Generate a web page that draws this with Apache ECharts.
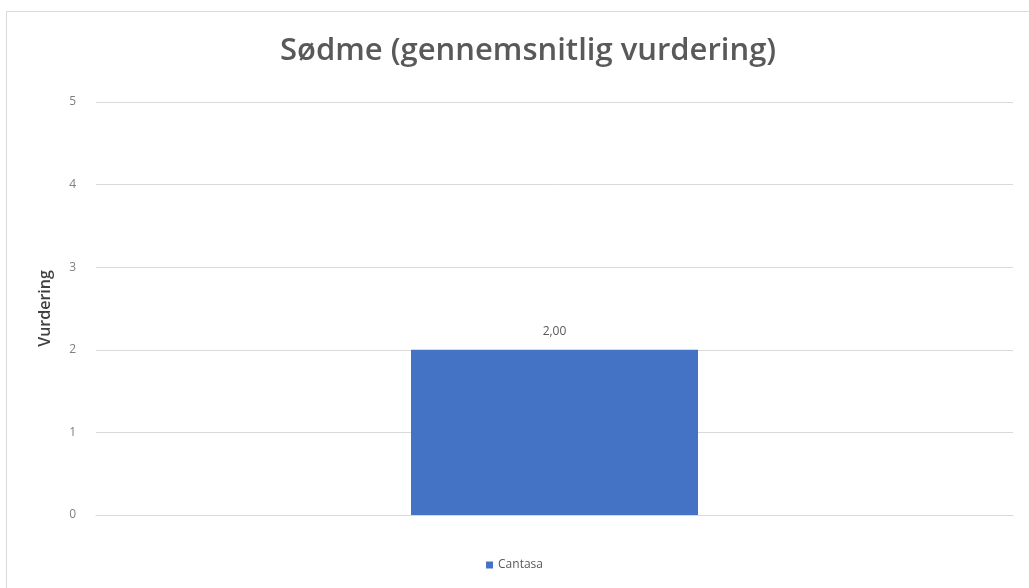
<!DOCTYPE html>
<html><head><meta charset="utf-8">
<script src="https://cdn.jsdelivr.net/npm/echarts@6/dist/echarts.min.js"></script>
<style>html,body{margin:0;padding:0;background:#fff}#c{width:1029px;height:588px}</style>
</head><body><div id="c"></div>
<script>
const categories = ['Cantasa'];
const seriesName = 'Cantasa';
const values = [2.00];
const yTicks = [0, 1, 2, 3, 4, 5];

const chart = echarts.init(document.getElementById('c'));
chart.setOption({
  animation: false,
  backgroundColor: '#fff',
  graphic: [{type:'rect', shape:{x:6.5,y:11.5,width:1030,height:590}, style:{fill:'none', stroke:'#d9d9d9', lineWidth:1}, silent:true}],
  title: {text:'Sødme (gennemsnitlig vurdering)', left:275, top:31,
    textStyle:{fontFamily:'Open Sans', fontSize:31, fontWeight:600, color:'#595959'}},
  legend: {bottom:12, left:'center', icon:'rect', itemWidth:7, itemHeight:7, itemGap:6,
    textStyle:{fontFamily:'Open Sans', fontSize:12, color:'#595959'}, data:[seriesName]},
  grid: {left:96, right:16, top:102, bottom:73},
  xAxis: {type:'category', data:categories, axisLine:{show:true, lineStyle:{color:'#d9d9d9'}}, axisTick:{show:false}, axisLabel:{show:false}},
  yAxis: {type:'value', min:yTicks[0], max:yTicks[yTicks.length-1], interval:1,
    name:'Vurdering', nameLocation:'middle', nameGap:43, nameRotate:90,
    nameTextStyle:{fontFamily:'Open Sans', fontSize:16, fontWeight:600, color:'#404040'},
    axisLine:{show:false}, axisTick:{show:false},
    axisLabel:{fontFamily:'Open Sans', fontSize:12, color:'#7f7f7f', margin:20},
    splitLine:{lineStyle:{color:'#d9d9d9', width:1}}},
  series: [{name:seriesName, type:'bar', data:values, barWidth:287,
    itemStyle:{color:'#4472C4'},
    label:{show:true, position:'top', distance:12, formatter:p=>p.value.toFixed(2).replace('.',','),
      fontFamily:'Open Sans', fontSize:12, color:'#595959'}}]
});
</script></body></html>
